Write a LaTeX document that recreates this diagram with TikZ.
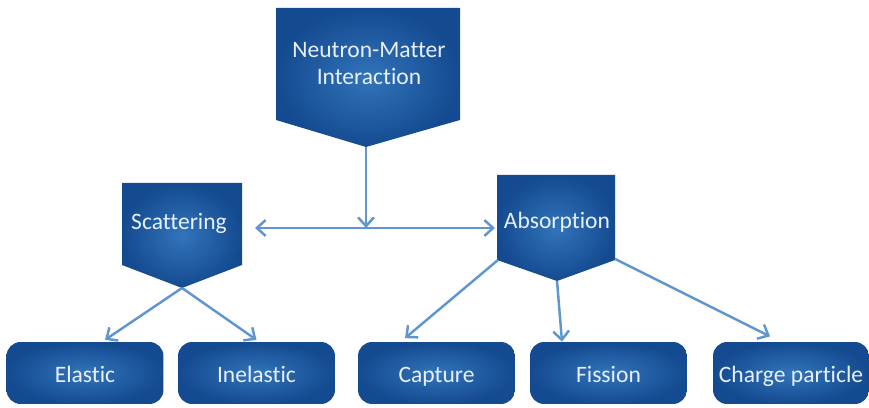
\documentclass[tikz,border=0pt]{standalone}
\usepackage{fontspec}
\setmainfont{Carlito}[Ligatures=NoCommon]
\usetikzlibrary{arrows.meta}

\definecolor{boxin}{RGB}{50,116,186}
\definecolor{boxout}{RGB}{20,74,144}
\definecolor{linkblue}{RGB}{96,150,208}
\definecolor{labelwhite}{RGB}{232,240,250}

\tikzset{
  blockshade/.style={inner color=boxin, outer color=boxout},
  lbl/.style={text=labelwhite, font=\fontsize{13.4}{15.4}\selectfont, align=center},
  leaf/.style={lbl, blockshade, rounded corners=8pt, minimum width=3.14cm,
    minimum height=1.24cm, inner sep=0pt, text height=12pt, text depth=0.7pt},
  link/.style={draw=linkblue, line width=1.4pt,
    -{Straight Barb[length=5pt,width=9pt,line width=1.4pt]}},
  twolink/.style={link, {Straight Barb[length=5pt,width=9pt,line width=1.4pt]}-{Straight Barb[length=5pt,width=9pt,line width=1.4pt]}}
}

\begin{document}
\begin{tikzpicture}[x=0.02cm, y=-0.02cm]
      \useasboundingbox (0,0) rectangle (869,408);

      % pointed heads
      \shade[blockshade] (276,8) -- (460,8) -- (460,120) -- (366,147) -- (276,120) -- cycle;
      \node[lbl] (nmi) at (369,64) {Neutron-Matter\\Interaction};
      \coordinate (nmitip) at (366,147);

      \shade[blockshade] (122,183) -- (242,183) -- (242,265) -- (182,288) -- (122,265) -- cycle;
      \node[lbl] (scat) at (179,223) {Scattering};
      \coordinate (scatR) at (255,228);
      \coordinate (scattip) at (182,288);

      \shade[blockshade] (497,175) -- (615,175) -- (615,260) -- (557,281) -- (497,260) -- cycle;
      \node[lbl] (abso) at (557,222) {Absorption};
      \coordinate (absoL) at (495,228);
      \coordinate (absoSL) at (498,260);
      \coordinate (absoSR) at (615,259);
      \coordinate (absotip) at (557,281);

      \coordinate (junc) at (366,228);

      % leaves
      \node[leaf] (elastic) at (85,373) {Elastic};
      \node[leaf] (inelastic) at (256.5,373) {Inelastic};
      \node[leaf] (capture) at (436.5,373) {Capture};
      \node[leaf] (fission) at (608.5,373) {Fission};
      \node[leaf, minimum width=3.12cm] (charge) at (791,373) {Charge particle};

      % links
      \draw[link] (nmitip) -- (junc);
      \draw[twolink] (scatR) -- (absoL);
      \draw[link] (scattip) -- ([xshift=0.4cm,yshift=1pt]elastic.north);
      \draw[link] (scattip) -- ([yshift=1pt]inelastic.north);
      \draw[link] (absoSL) -- ([xshift=-0.63cm,yshift=2pt]capture.north);
      \draw[link] (absotip) -- ([xshift=-0.93cm]fission.north);
      \draw[link] (absoSR) -- ([xshift=-0.42cm,yshift=3pt]charge.north);
    \end{tikzpicture}
\end{document}
